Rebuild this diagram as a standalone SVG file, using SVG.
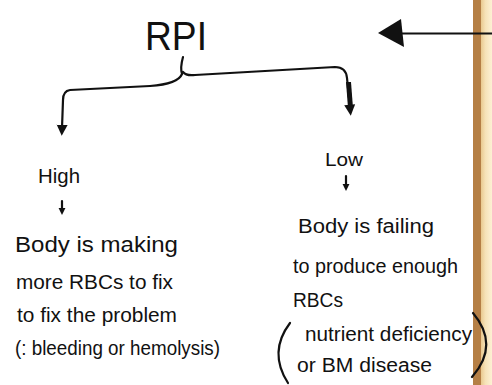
<svg xmlns="http://www.w3.org/2000/svg" width="492" height="385" viewBox="0 0 492 385">
<defs>
<linearGradient id="wood" x1="0" y1="0" x2="1" y2="0">
<stop offset="0" stop-color="#e9c98f"/>
<stop offset="0.4" stop-color="#f6e2b8"/>
<stop offset="1" stop-color="#fdf1d4"/>
</linearGradient>
<marker id="ah" viewBox="0 0 10 10" refX="3" refY="5" markerWidth="11" markerHeight="12" orient="auto" markerUnits="userSpaceOnUse">
<path d="M0,0 L10,5 L0,10 Z" fill="#111"/>
</marker>
<marker id="ahs" viewBox="0 0 10 10" refX="3" refY="5" markerWidth="7" markerHeight="8" orient="auto" markerUnits="userSpaceOnUse">
<path d="M0,0 L10,5 L0,10 Z" fill="#111"/>
</marker>
</defs>
<style>
text{font-family:"Liberation Sans","DejaVu Sans",sans-serif;fill:#111}
.ln{fill:none;stroke:#111;stroke-width:2.2;stroke-linecap:round;stroke-linejoin:round}
</style>
<rect width="492" height="385" fill="#ffffff"/>
<g id="wood-edge">
<rect x="473" y="0" width="8" height="385" fill="#b57f45"/>
<rect x="481" y="0" width="11" height="385" fill="url(#wood)"/>
</g>
<g id="rpi"><text x="176" y="50" font-size="40" text-anchor="middle" textLength="62" lengthAdjust="spacingAndGlyphs">RPI</text></g>
<g id="high"><text x="38" y="183" font-size="20" textLength="42" lengthAdjust="spacingAndGlyphs">High</text></g>
<g id="low"><text x="325" y="166" font-size="19" textLength="38" lengthAdjust="spacingAndGlyphs">Low</text></g>
<g id="high-text">
<text x="15" y="252" font-size="22" textLength="163" lengthAdjust="spacingAndGlyphs">Body is making</text>
<text x="16" y="289" font-size="20" textLength="157" lengthAdjust="spacingAndGlyphs">more RBCs to fix</text>
<text x="17" y="322" font-size="20" textLength="160" lengthAdjust="spacingAndGlyphs">to fix the problem</text>
<text x="15" y="355" font-size="20" textLength="205" lengthAdjust="spacingAndGlyphs">(: bleeding or hemolysis)</text>
</g>
<g id="low-text">
<text x="298" y="233" font-size="20" textLength="136" lengthAdjust="spacingAndGlyphs">Body is failing</text>
<text x="293" y="273" font-size="20" textLength="165" lengthAdjust="spacingAndGlyphs">to produce enough</text>
<text x="293" y="307" font-size="20" textLength="50" lengthAdjust="spacingAndGlyphs">RBCs</text>
<text x="305" y="341" font-size="20" textLength="167" lengthAdjust="spacingAndGlyphs">nutrient deficiency</text>
<text x="297" y="372" font-size="20" textLength="135" lengthAdjust="spacingAndGlyphs">or BM disease</text>
<path class="ln" d="M290,323 Q268,352 288,383"/>
<path class="ln" d="M473,313 Q500,345 472,377"/>
</g>
<g id="connectors">
<path class="ln" d="M492,33.5 L400,33.5" stroke-width="1.5"/>
<path d="M378,33 L401,19 L404,47 Z" fill="#111"/>
<path class="ln" d="M183,57 Q180,68 182,74 Q178,84 150,86 L70,90 Q63,91 63,100 L62,128" marker-end="url(#ah)"/>
<path class="ln" d="M183,72 Q186,76 195,75 L335,67 Q346,67 347,78 L350,108" marker-end="url(#ah)"/>
<path d="M346,82 L351,82 L353,108 L348,108 Z" fill="#111"/>
<path class="ln" d="M62,201 L62,210" stroke-width="1.6" marker-end="url(#ahs)"/>
<path class="ln" d="M346,176 L346,186" stroke-width="1.6" marker-end="url(#ahs)"/>
</g>
</svg>
